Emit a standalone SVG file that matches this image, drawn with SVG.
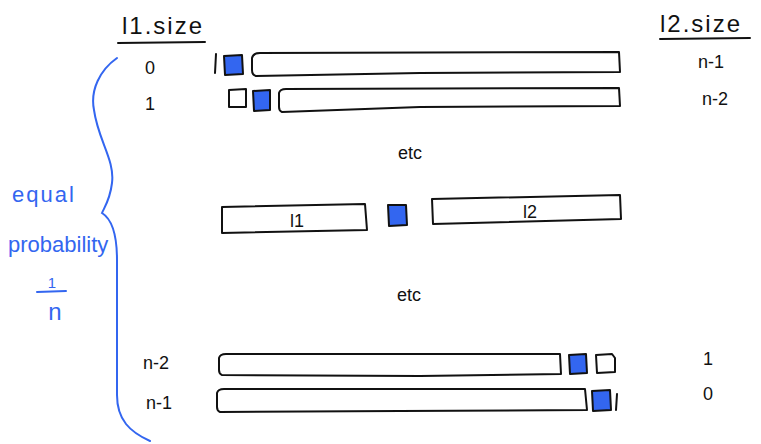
<svg xmlns="http://www.w3.org/2000/svg" width="761" height="444" viewBox="0 0 761 444">
<style>
.k{fill:none;stroke:#111;stroke-width:2;stroke-linejoin:round;stroke-linecap:round}
.bar{fill:#fff;stroke:#111;stroke-width:2;stroke-linejoin:round}
.b{fill:#3366f0;stroke:#111;stroke-width:2;stroke-linejoin:round}
.t{font-family:"Liberation Sans",Arial,sans-serif;font-size:18px;fill:#111}
.h{font-family:"Liberation Sans",Arial,sans-serif;font-size:24px;fill:#111;letter-spacing:2px}
.bl{font-family:"Liberation Sans",Arial,sans-serif;fill:#3366f0}
</style>
<rect width="761" height="444" fill="#fff"/>
<g id="header-l1">
<text class="h" x="122" y="34">l1.size</text>
<line class="k" x1="118" y1="43" x2="205" y2="42"/>
</g>
<g id="header-l2">
<text class="h" x="660" y="32">l2.size</text>
<line class="k" x1="660" y1="39" x2="750" y2="38"/>
</g>
<g id="row-0">
<text class="t" x="150" y="74" text-anchor="middle">0</text>
<line class="k" x1="216" y1="54" x2="215" y2="73"/>
<path class="b" d="M224,56 L242,55 L243,74 L225,75 Z"/>
<path class="bar" d="M252,58 Q253,53 260,53 L619,52 L620,72 L420,73 L256,76 Q252,75 252,70 Z"/>
<text class="t" x="711" y="68" text-anchor="middle">n-1</text>
</g>
<g id="row-1">
<text class="t" x="150" y="110" text-anchor="middle">1</text>
<path class="bar" d="M229,90 L246,89 L246,107 L229,107 Z"/>
<path class="b" d="M253,91 L270,90 L270,110 L254,111 Z"/>
<path class="bar" d="M279,93 Q280,89 286,89 L619,88 L620,106 L420,107 L282,112 Q279,111 279,107 Z"/>
<text class="t" x="715" y="105" text-anchor="middle">n-2</text>
</g>
<g id="etc-1">
<text class="t" x="410" y="159" text-anchor="middle">etc</text>
</g>
<g id="row-mid">
<path class="bar" d="M222,207 L365,204 L367,230 L222,233 Z"/>
<text class="t" x="297" y="227" text-anchor="middle">l1</text>
<path class="b" d="M388,205 L406,205 L407,225 L389,226 Z"/>
<path class="bar" d="M432,199 L620,195 L621,219 L433,224 Z"/>
<text class="t" x="530" y="218" text-anchor="middle">l2</text>
</g>
<g id="etc-2">
<text class="t" x="409" y="301" text-anchor="middle">etc</text>
</g>
<g id="row-n-2">
<text class="t" x="156" y="369" text-anchor="middle">n-2</text>
<path class="bar" d="M219,358 Q220,354 226,354 L560,354 L561,374 L420,376 L222,375 Q219,374 219,370 Z"/>
<path class="b" d="M569,355 L586,354 L587,373 L570,374 Z"/>
<path class="bar" d="M596,355 L612,354 L615,358 L615,372 L597,373 Z"/>
<text class="t" x="708" y="365" text-anchor="middle">1</text>
</g>
<g id="row-n-1">
<text class="t" x="159" y="409" text-anchor="middle">n-1</text>
<path class="bar" d="M217,393 Q218,389 224,389 L585,389 L587,410 L400,411 L220,412 Q217,411 217,407 Z"/>
<path class="b" d="M592,391 L610,390 L611,410 L593,411 Z"/>
<line class="k" x1="617" y1="394" x2="616" y2="410"/>
<text class="t" x="708" y="400" text-anchor="middle">0</text>
</g>
<g id="connectors">
<path d="M117,58 C100,70 90,90 94,110 C98,140 115,160 112,183 C110,200 104,208 102,213 C110,218 117,230 117,260 L117,395 C117,420 130,432 150,441" fill="none" stroke="#3366f0" stroke-width="2" stroke-linecap="round"/>
</g>
<g id="note">
<text class="bl" x="12" y="202" font-size="22" letter-spacing="2">equal</text>
<text class="bl" x="8" y="252" font-size="22">probability</text>
<text class="bl" x="52" y="288" font-size="15" text-anchor="middle">1</text>
<line x1="37" y1="292" x2="66" y2="291" stroke="#3366f0" stroke-width="2" stroke-linecap="round"/>
<text class="bl" x="55" y="320" font-size="24" text-anchor="middle">n</text>
</g>
</svg>
